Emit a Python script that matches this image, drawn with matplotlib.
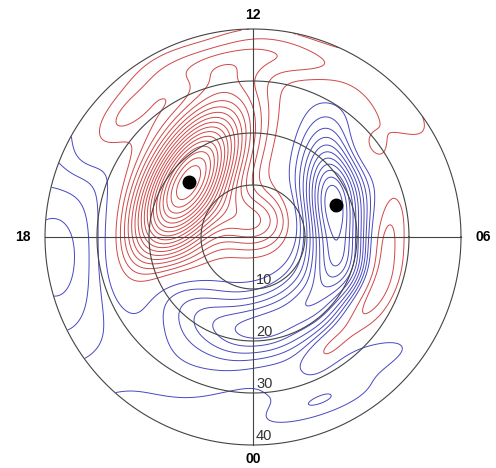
import numpy as np
import matplotlib.pyplot as plt

# ==============================
# Data
# ==============================

# potential sources: x (dawn, deg), y (noon, deg), amplitude, sigma major, sigma minor, tilt (deg)
src_x = [-12.5, 0.0, 15.5, 16.0, 11.0, 4.0, -3.0, -10.0, -17.0,
         21.0, 25.0, 21.0, 14.0, 17.5, 12.5,
         -25.0, -8.0, 10.0, 27.0, -38.0, -12.0]
src_y = [10.4, 3.0, 6.5, -6.0, -13.0, -17.0, -18.0, -15.0, -9.0,
         17.0, -2.0, -13.0, -22.0, -25.0, -32.0,
         23.0, 33.0, 34.0, 26.0, -4.0, -24.0]
src_amp = [19.0, 5.0, -12.0, -4.5, -5.0, -4.5, -3.5, -2.5, -2.0,
           2.0, 3.0, 3.0, 2.0, -2.0, -1.8,
           2.5, 2.5, 2.2, 1.6, -4.5, -1.5]
src_sa = [11.5, 5.0, 9.0, 4.5, 4.5, 4.5, 4.5, 4.5, 4.5,
          4.0, 7.0, 6.0, 4.0, 10.0, 8.0,
          8.0, 8.0, 8.0, 8.0, 16.0, 9.0]
src_sb = [5.3, 4.0, 4.0, 4.5, 4.5, 4.5, 4.5, 4.5, 4.5,
          4.0, 2.5, 2.5, 2.0, 2.5, 2.0,
          3.0, 3.0, 3.0, 3.0, 10.0, 7.0]
src_tilt = [60.0, 0.0, 95.0, 0.0, 0.0, 0.0, 0.0, 0.0, 0.0,
            0.0, 80.0, 55.0, 50.0, 19.0, 18.0,
            45.0, 10.0, -15.0, -45.0, 95.0, 0.0]

# convection cell foci (MLT hours, colatitude deg)
focus_mlt = [15.3, 7.4]
focus_colat = [16.3, 17.1]

ring_colat = [10, 20, 30, 40]
ring_labels = ["10", "20", "30", "40"]
mlt_labels = ["12", "06", "00", "18"]

level_step = 1.0

# ==============================
# Build field
# ==============================

g = np.linspace(-41, 41, 400)
X, Y = np.meshgrid(g, g)
Z = np.zeros_like(X)
for x0, y0, a, sa, sb, t in zip(src_x, src_y, src_amp, src_sa, src_sb, src_tilt):
    c, s = np.cos(np.radians(t)), np.sin(np.radians(t))
    u = (X - x0) * c + (Y - y0) * s
    v = -(X - x0) * s + (Y - y0) * c
    Z += a * np.exp(-0.5 * ((u / sa) ** 2 + (v / sb) ** 2))
Z[np.hypot(X, Y) > 40] = np.nan

# ==============================
# Plot
# ==============================

fig = plt.figure(figsize=(4.96, 4.68), dpi=100)
ax = fig.add_axes([0, 0, 1, 1])
ax.set_xlim(-253 / 5.2, 243 / 5.2)
ax.set_ylim(-231 / 5.2, 237 / 5.2)
ax.set_aspect("equal")
ax.axis("off")

pos = np.arange(level_step, np.nanmax(Z), level_step)
neg = -np.arange(level_step, -np.nanmin(Z), level_step)[::-1]
ax.contour(X, Y, Z, levels=pos, colors="#d04848", linewidths=0.7, linestyles="solid")
ax.contour(X, Y, Z, levels=neg, colors="#4848c0", linewidths=0.7, linestyles="solid")

t = np.linspace(0, 2 * np.pi, 400)
for r in ring_colat:
    ax.plot(r * np.cos(t), r * np.sin(t), color="#444444", lw=0.8)
ax.plot([0, 0], [-40, 40], color="#444444", lw=0.8)
ax.plot([-40, 40], [0, 0], color="#444444", lw=0.8)

for r, lab in zip(ring_colat, ring_labels):
    ax.text(0.6, -r + 0.3, lab, ha="left", va="bottom", fontsize=10.5,
            color="#333333", family="Liberation Sans")

lab_pos = [(0, 42.7), (44.3, 0), (0, -42.7), (-44.3, 0)]
for (lx, ly), lab in zip(lab_pos, mlt_labels):
    ax.text(lx, ly, lab, ha="center", va="center", fontsize=10,
            fontweight="bold", family="Liberation Sans")

ang = np.radians((np.array(focus_mlt) - 6) * 15)
fx = np.array(focus_colat) * np.cos(ang)
fy = np.array(focus_colat) * np.sin(ang)
ax.plot(fx, fy, "o", color="black", markersize=9, zorder=5)

plt.savefig("out.png", dpi=100)
